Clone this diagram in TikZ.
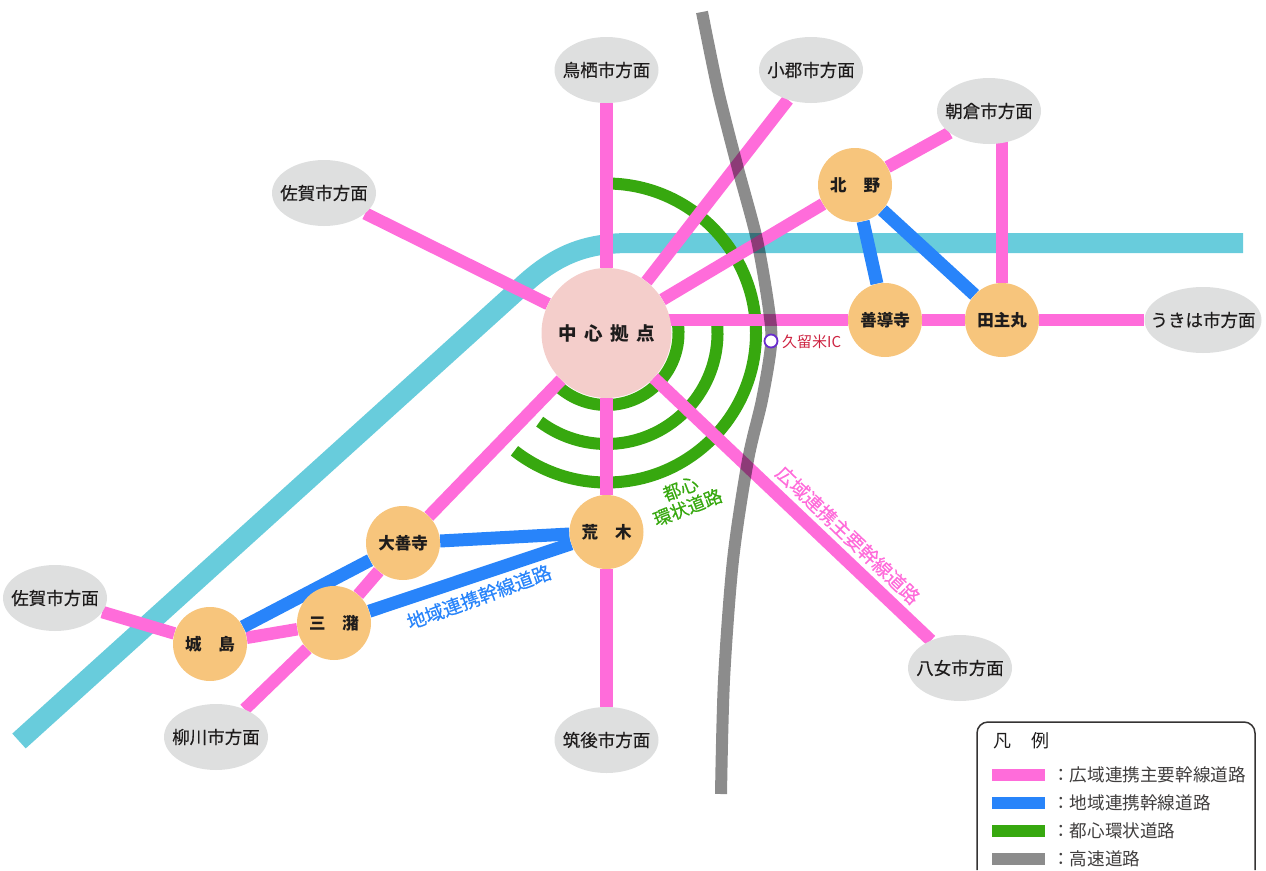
\documentclass[tikz,border=0pt]{standalone}
\usepackage{fontspec}
\setmainfont{Noto Sans CJK JP}
\newfontfamily\medf[FakeBold=0.35]{Noto Sans CJK JP}
\usetikzlibrary{shapes.geometric,calc}
\pgfdeclarelayer{bg}
\pgfsetlayers{bg,main}
\definecolor{cpink}{RGB}{255,108,218}
\definecolor{cblue}{RGB}{40,132,250}
\definecolor{cgreen}{RGB}{55,168,15}
\definecolor{cgray}{RGB}{140,140,140}
\definecolor{ccyan}{RGB}{104,204,220}
\definecolor{cell}{RGB}{222,223,223}
\definecolor{corange}{RGB}{247,197,124}
\definecolor{chub}{RGB}{244,206,203}
\definecolor{cink}{RGB}{30,28,28}
\newcommand{\fs}[1]{\fontsize{#1}{#1}\selectfont}
\newcommand{\zb}[1]{\makebox[0pt][c]{#1}}
\tikzset{
  areanode/.style={ellipse,fill=cell,draw=none,minimum width=104pt,minimum height=66pt,inner sep=0pt,text=cink,font=\medf\fs{17.5}},
  stopnode/.style={circle,fill=corange,draw=none,minimum size=74pt,inner sep=0pt,text=cink,font=\fs{16.5}\bfseries},
  pinkroad/.style={draw=cpink,line width=12.5pt},
  blueroad/.style={draw=cblue,line width=13pt},
  greenroad/.style={draw=cgreen,line width=12pt},
  legswatch/.style={minimum width=53pt,minimum height=11.5pt,inner sep=0pt,draw=none},
  legtext/.style={anchor=west,inner sep=0pt,text=cink!85,font=\fs{17.6}},
}
\begin{document}
\begin{tikzpicture}[x=1pt,y=1pt]
\useasboundingbox (0,0) rectangle (1266,-870);
\begin{scope}[yscale=-1]
% nodes
\node[circle,fill=chub,minimum size=130pt,inner sep=0pt,text=cink,font=\fs{18.5}\bfseries] (hub) at (606.5,333) {中\hspace{7.5pt}心\hspace{7.5pt}拠\hspace{7.5pt}点};
\node[areanode] (tosu) at (606.5,70) {\zb{鳥栖市方面}};
\node[areanode] (ogori) at (811,70) {\zb{小郡市方面}};
\node[areanode] (asakura) at (989,111) {\zb{朝倉市方面}};
\node[areanode] (saga) at (324,193) {\zb{佐賀市方面}};
\node[areanode,minimum width=117pt] (ukiha) at (1203,320) {\zb{うきは市方面}};
\node[areanode] (yame) at (960,668) {\zb{八女市方面}};
\node[areanode] (chikugo) at (606.5,740) {\zb{筑後市方面}};
\node[areanode] (yanagawa) at (216,737) {\zb{柳川市方面}};
\node[areanode] (sagab) at (55,598) {\zb{佐賀市方面}};
\node[stopnode] (kitano) at (855,185) {北\hspace{17pt}野};
\node[stopnode] (zen) at (885,320) {善導寺};
\node[stopnode] (tanu) at (1002,320) {田主丸};
\node[stopnode] (dai) at (403,543) {大善寺};
\node[stopnode] (araki) at (606.5,532) {荒\hspace{17pt}木};
\node[stopnode] (mizuma) at (334,623) {三\hspace{17pt}潴};
\node[stopnode] (joji) at (210,644) {城\hspace{17pt}島};
\node[circle,fill=white,draw={rgb,255:red,105;green,45;blue,205},line width=1.8pt,minimum size=13pt,inner sep=0pt] (ic) at (771,341) {};
\node[anchor=west,inner sep=0pt,text={rgb,255:red,205;green,35;blue,65},font=\fs{15}] (iclabel) at (782,342) {久留米IC};
% road labels
\node[text=cgreen,font=\medf\fs{18},rotate=21,align=center,inner sep=0pt] (lgreen) at (684,498) {都心\\[2pt]環状道路};
\node[text=cblue,font=\medf\fs{19},rotate=20,inner sep=0pt] (lblue) at (479,597) {地域連携幹線道路};
\node[text=cpink,font=\medf\fs{19},rotate=-43.6,inner sep=0pt] (lpink) at (848,535) {広域連携主要幹線道路};
% roads
\begin{pgfonlayer}{bg}
\draw[draw=ccyan,line width=20pt] (19,741) -- (520,288) .. controls (555,255) and (585,243) .. (630,243) -- (1243,243);
\draw[greenroad] ($(hub)+(-90:149.5pt)$) arc[start angle=-90,end angle=128,radius=149.5pt];
\draw[greenroad] ($(hub)+(-8:111pt)$) arc[start angle=-8,end angle=127,radius=111pt];
\draw[greenroad] ($(hub)+(-10:72pt)$) arc[start angle=-10,end angle=130,radius=72pt];
\draw[pinkroad] (hub) -- (tosu);
\draw[pinkroad] (hub) -- (ogori);
\draw[pinkroad] (hub) -- (saga);
\draw[pinkroad] (hub) -- (kitano);
\draw[pinkroad] (kitano) -- (asakura);
\draw[pinkroad] (tanu) -- (tanu |- asakura);
\draw[pinkroad] (hub |- zen) -- (zen);
\draw[pinkroad] (zen) -- (tanu);
\draw[pinkroad] (tanu) -- (ukiha);
\draw[pinkroad] (hub) -- (yame);
\draw[pinkroad] (hub) -- (araki);
\draw[pinkroad] (araki) -- (chikugo);
\draw[pinkroad] (hub) -- (dai);
\draw[pinkroad] (dai) -- (mizuma);
\draw[pinkroad] (mizuma) -- (yanagawa);
\draw[pinkroad] (mizuma) -- (joji);
\draw[pinkroad] (joji) -- (sagab);
\draw[blueroad] (kitano) -- (zen);
\draw[blueroad] (kitano) -- (tanu);
\draw[blueroad] (dai) -- (araki);
\draw[blueroad] (dai) -- (joji);
\draw[blueroad] (mizuma) -- (araki);
\begin{scope}[blend mode=multiply]
\draw[draw=cgray,line width=12pt] plot[smooth] coordinates {(702,12) (718,90) (737,165) (757,240) (769,310) (771,345) (762,400) (748,460) (733,560) (724,680) (721,794)};
\end{scope}
\end{pgfonlayer}
% legend
\draw[draw=cink!90,line width=1.5pt,rounded corners=11pt] (977,870) -- (977,722) -- (1255,722) -- (1255,870);
\node[anchor=west,inner sep=0pt,text=cink,font=\fs{18}] (legt) at (993,741) {凡\hspace{20pt}例};
\node[legswatch,fill=cpink] (s1) at (1018.5,775) {};
\node[legswatch,fill=cblue] (s2) at (1018.5,803) {};
\node[legswatch,fill=cgreen] (s3) at (1018.5,831) {};
\node[legswatch,fill=cgray] (s4) at (1018.5,859) {};
\node[legtext] (t1) at (1052,775) {：広域連携主要幹線道路};
\node[legtext] (t2) at (1052,803) {：地域連携幹線道路};
\node[legtext] (t3) at (1052,831) {：都心環状道路};
\node[legtext] (t4) at (1052,859) {：高速道路};
\end{scope}
\end{tikzpicture}
\end{document}
